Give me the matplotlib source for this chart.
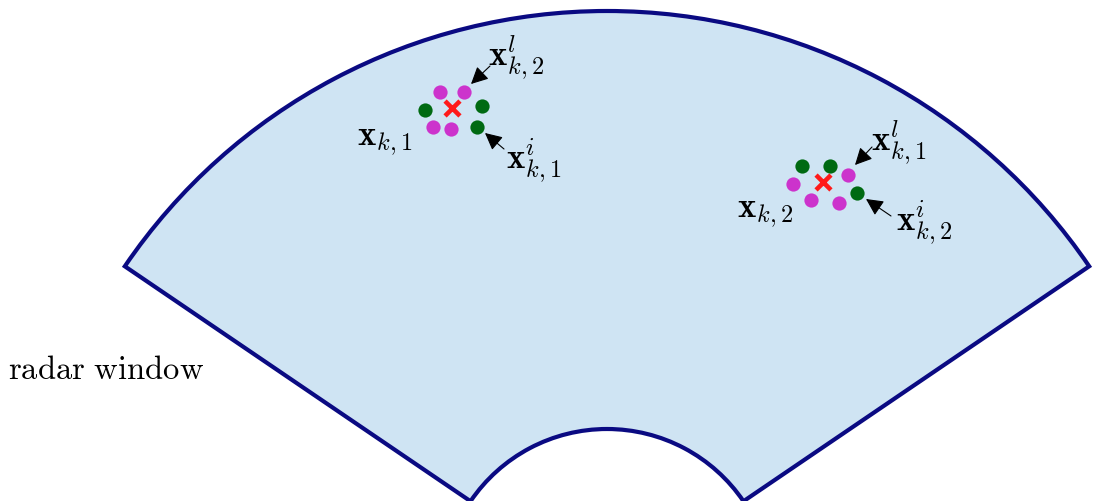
import matplotlib
matplotlib.use("Agg")
import matplotlib.pyplot as plt
from matplotlib.patches import Wedge

plt.rcParams['mathtext.fontset'] = 'cm'
plt.rcParams['font.family'] = 'serif'
plt.rcParams['font.serif'] = ['DejaVu Serif']

# Radar window (annular sector), pixel-like coordinates, y downwards
center = (607, 594)
r_outer = 583
r_inner = 165
theta_span = (214.2, 325.8)

# Cluster 1
mag1_x = [440, 464, 433, 451]
mag1_y = [92, 92, 127, 129]
grn1_x = [425, 482, 477]
grn1_y = [110, 106, 127]
red1 = (452, 108)

# Cluster 2
mag2_x = [848, 793, 811, 839]
mag2_y = [175, 184, 200, 203]
grn2_x = [802, 830, 857]
grn2_y = [166, 166, 193]
red2 = (823, 182)

# labels: (text, text position)
plain_labels = [
    (r'$\mathbf{x}_{k,1}$', (385, 141)),
    (r'$\mathbf{x}_{k,2}$', (765, 213)),
]
# arrow labels: (text, text position, arrow tail, arrow tip)
arrow_labels = [
    (r'$\mathbf{x}^{l}_{k,2}$', (516, 58), (490, 66), (471, 84)),
    (r'$\mathbf{x}^{i}_{k,1}$', (534, 161), (504, 149), (485, 133)),
    (r'$\mathbf{x}^{l}_{k,1}$', (899, 143), (872, 147), (855, 165)),
    (r'$\mathbf{x}^{i}_{k,2}$', (924, 223), (891, 216), (866, 199)),
]

fig = plt.figure(figsize=(10.93, 5.01), dpi=100)
ax = fig.add_axes([0, 0, 1, 1])
ax.set_xlim(0, 1093)
ax.set_ylim(501, 0)
ax.set_aspect('equal')
ax.axis('off')

ax.add_patch(Wedge(center, r_outer, theta_span[0], theta_span[1],
                   width=r_outer - r_inner, facecolor='#cfe4f3',
                   edgecolor='#0a0a82', lw=3.0))

for mx, my, gx, gy, rc in [(mag1_x, mag1_y, grn1_x, grn1_y, red1),
                           (mag2_x, mag2_y, grn2_x, grn2_y, red2)]:
    ax.scatter(mx, my, s=105, color='#cc33cc', zorder=3, lw=0)
    ax.scatter(gx, gy, s=105, color='#006a12', zorder=3, lw=0)
    ax.scatter([rc[0]], [rc[1]], s=115, marker='x', color='#ff1a1a',
               lw=3.3, zorder=4)

for txt, pos in plain_labels:
    ax.text(pos[0], pos[1], txt, fontsize=25, ha='center', va='center')

for txt, pos, tail, tip in arrow_labels:
    ax.text(pos[0], pos[1], txt, fontsize=25, ha='center', va='center')
    ax.annotate('', xy=tip, xytext=tail,
                arrowprops=dict(arrowstyle='-|>', color='black', lw=0.8,
                                mutation_scale=26, shrinkA=0, shrinkB=0))

ax.text(8, 370, r'$\mathrm{radar\ window}$', fontsize=23.5, ha='left',
        va='center')

fig.savefig('out.png', dpi=100)
